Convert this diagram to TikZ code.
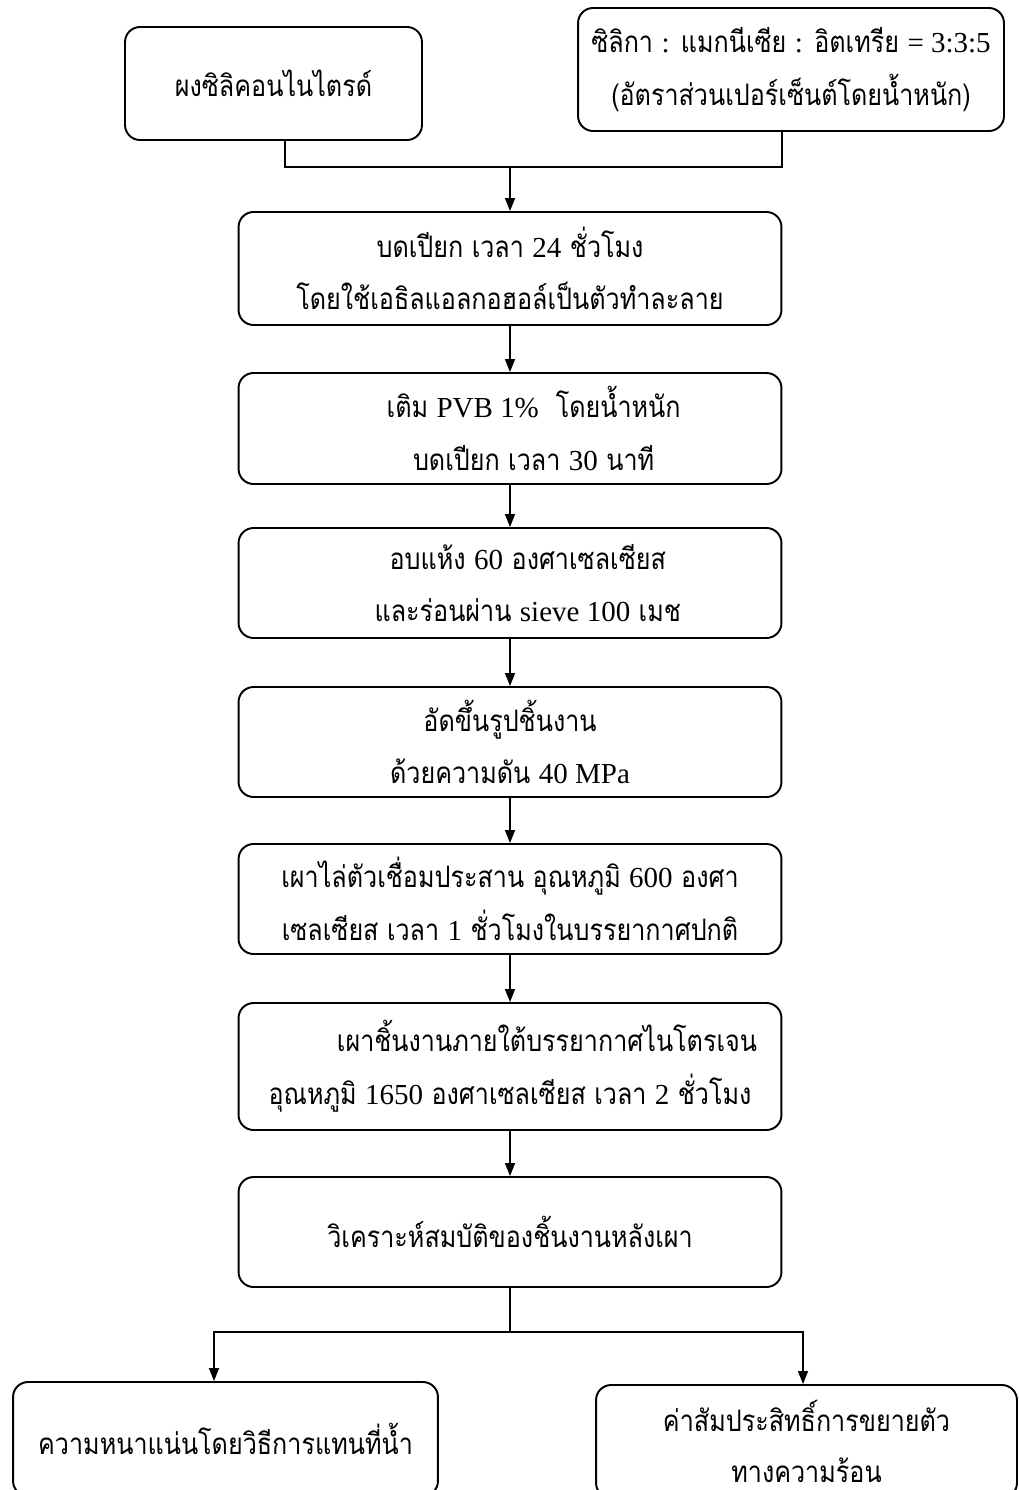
\documentclass[tikz,border=0pt]{standalone}
\usepackage{fontspec}
\setmainfont{Liberation Serif}
\newfontfamily\thai[Script=Thai,Scale=1.02,FakeStretch=0.85]{Loma}
\usetikzlibrary{arrows.meta}
\newcommand{\en}[1]{{\rmfamily #1}}

\tikzset{
proc/.style={draw, rounded corners=0.3cm, line width=1.1pt,
  minimum width=10.86cm, minimum height=2.2cm, align=center,
  font=\fontsize{16.5}{30}\selectfont\thai},
arr/.style={-{Triangle[length=0.26cm,width=0.2cm]}, line width=0.8pt},
link/.style={line width=0.8pt}
}

\begin{document}
\begin{tikzpicture}[x=0.02cm,y=-0.02cm]

\useasboundingbox (0,0) rectangle (1018,1490);

% Raw materials
\node[proc, minimum width=5.94cm, minimum height=2.26cm] (powder) at (273.5,83.5)
{ผงซิลิคอนไนไตรด์};
\node[proc, minimum width=8.52cm, minimum height=2.46cm] (ratio) at (791,69.5)
{ซิลิกา \en{:} แมกนีเซีย \en{:} อิตเทรีย \en{= 3:3:5}\\
(อัตราส่วนเปอร์เซ็นต์โดยน้ำหนัก)};

\coordinate (join) at (510,167);
\draw[link] ([xshift=0.23cm]powder.south) |- (join)
  -| ([xshift=-0.18cm]ratio.south);

% Process steps
\node[proc, minimum height=2.26cm] (mill) at (510,268.5)
{บดเปียก เวลา \en{24} ชั่วโมง\\
โดยใช้เอธิลแอลกอฮอล์เป็นตัวทำละลาย};

\node[proc, minimum height=2.22cm] (pvb) at (510,428.5)
{\hspace*{1.6em}เติม \en{PVB 1\%}\ \ โดยน้ำหนัก\\
\hspace*{1.6em}บดเปียก เวลา \en{30} นาที};

\node[proc] (dry) at (510,583)
{\hspace*{1.2em}อบแห้ง \en{60} องศาเซลเซียส\\
\hspace*{1.2em}และร่อนผ่าน \en{sieve 100} เมช};

\node[proc] (press) at (510,742)
{อัดขึ้นรูปชิ้นงาน\\
ด้วยความดัน \en{40 MPa}};

\node[proc] (burnout) at (510,899)
{เผาไล่ตัวเชื่อมประสาน อุณหภูมิ \en{600} องศา\\
เซลเซียส เวลา \en{1} ชั่วโมงในบรรยากาศปกติ};

\node[proc, minimum height=2.54cm] (sinter) at (510,1066.5)
{\hspace*{2.5em}เผาชิ้นงานภายใต้บรรยากาศไนโตรเจน\\
อุณหภูมิ \en{1650} องศาเซลเซียส เวลา \en{2} ชั่วโมง};

\node[proc] (analysis) at (510,1232)
{วิเคราะห์สมบัติของชิ้นงานหลังเผา};

\draw[arr] (join) -- (mill);
\foreach \a/\b in {mill/pvb, pvb/dry, dry/press, press/burnout,
  burnout/sinter, sinter/analysis}
{
\draw[arr] (\a) -- (\b);
}

% Results
\node[proc, minimum width=8.5cm, minimum height=2.28cm] (density) at (225.5,1439)
{ความหนาแน่นโดยวิธีการแทนที่น้ำ};
\node[proc, minimum width=8.42cm, minimum height=2.26cm,
  font=\fontsize{16.5}{29}\selectfont\thai] (expansion) at (806.5,1441.5)
{ค่าสัมประสิทธิ์การขยายตัว\\
ทางความร้อน};

\coordinate (split) at (510,1332);
\draw[link] (analysis) -- (split);
\draw[arr] (split) -| ([xshift=-0.23cm]density.north);
\draw[arr] (split) -| ([xshift=-0.07cm]expansion.north);

\end{tikzpicture}
\end{document}
